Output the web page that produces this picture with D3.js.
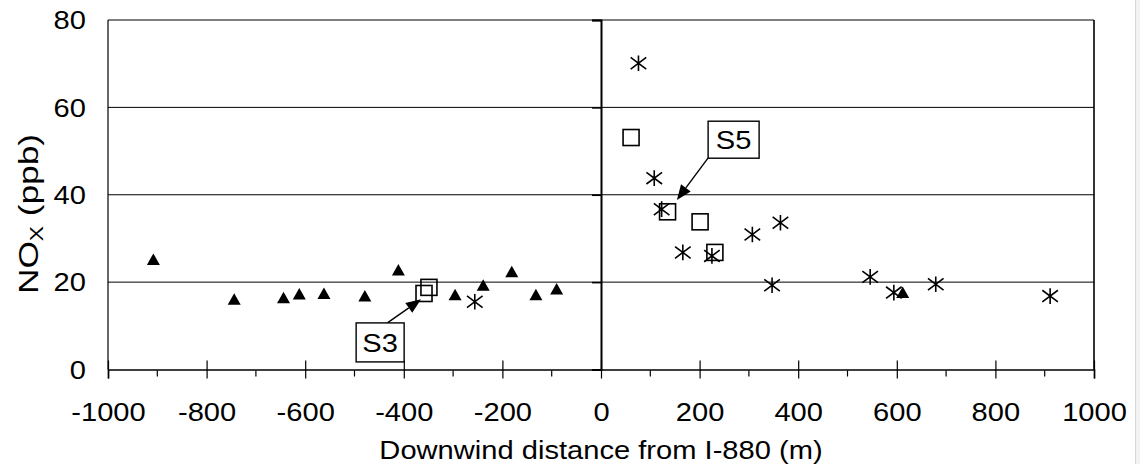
<!DOCTYPE html>
<html><head><meta charset="utf-8">
<script src="https://cdn.jsdelivr.net/npm/d3@7"></script>
<style>
html,body{margin:0;padding:0;background:#fff;}
svg{display:block;font-family:"Liberation Sans",Arial,sans-serif;}
</style></head>
<body>
<svg id="chart" width="1140" height="464"></svg>
<script>
// ---- data ----
const xTickValues = [-1000,-800,-600,-400,-200,0,200,400,600,800,1000];
const xMinorTicks = [-900,-700,-500,-300,-100,100,300,500,700,900];
const yTickValues = [0,20,40,60,80];
const yGridValues = [20,40,60];

const triangleX = [-908,-744,-644,-612,-562,-479,-411,-296,-239,-181,-132,-90,612];
const triangleY = [25.2,16.1,16.4,17.3,17.4,16.8,22.8,17.1,19.3,22.4,17.1,18.4,17.6];

const squareX = [-359,-349,61,135,201,231];
const squareY = [17.4,18.8,53.1,36.1,33.8,26.8];

const asteriskX = [-256,76,108,123,166,225,307,364,347,546,594,679,911];
const asteriskY = [15.5,70.1,43.8,36.7,26.8,26.0,30.9,33.6,19.3,21.2,17.6,19.5,16.8];

const annotationLabels = ["S3","S5"];
const annotationBoxX = [-448,269];
const annotationBoxY = [6.2,52.6];
const arrowFromX = [-434,217];
const arrowFromY = [10.6,48.4];
const arrowToX = [-365,154];
const arrowToY = [16.1,38.8];

const xTitle = "Downwind distance from I-880 (m)";

// ---- layout ----
const svg = d3.select("#chart");
const L = 108, R = 1094, T = 20, B = 369.5;
const x = d3.scaleLinear().domain([-1000,1000]).range([L,R]);
const y = d3.scaleLinear().domain([0,80]).range([B,T]);
const FS = 26, SX = 1.12;

// faint right edge
svg.append("rect").attr("x",1135).attr("y",0).attr("width",5).attr("height",464).attr("fill","#f3f3f3");
svg.append("line").attr("x1",1135.5).attr("x2",1135.5).attr("y1",0).attr("y2",464).attr("stroke","#d8d8d8");

const plot = svg.append("g");
plot.selectAll(".grid").data(yGridValues).join("line")
  .attr("x1",L).attr("x2",R).attr("y1",d=>y(d)).attr("y2",d=>y(d))
  .attr("stroke","#000").attr("stroke-width",1);
plot.append("line").attr("x1",L).attr("x2",R).attr("y1",T).attr("y2",T).attr("stroke","#000").attr("stroke-width",1.2);
plot.append("line").attr("x1",L).attr("x2",L).attr("y1",T).attr("y2",B).attr("stroke","#000").attr("stroke-width",1.2);
plot.append("line").attr("x1",R).attr("x2",R).attr("y1",T).attr("y2",B).attr("stroke","#000").attr("stroke-width",1.6);

// x axis
const xAxis = d3.axisBottom(x).tickValues(xTickValues).tickSize(9).tickFormat(d=>String(d));
const gx = svg.append("g").attr("transform",`translate(0,${B})`).call(xAxis);
gx.attr("font-family",null).attr("font-size",null);
gx.select(".domain").attr("stroke-width",1.6);
gx.selectAll(".tick line").attr("y1",-9).attr("y2",9).attr("stroke-width",1.2);
gx.selectAll(".tick text").attr("font-size",FS)
  .attr("dy",0).attr("y",51.5).attr("fill","#000").attr("transform",`scale(${SX},1)`);
gx.selectAll(".minor").data(xMinorTicks).join("line").attr("class","minor")
  .attr("x1",d=>x(d)).attr("x2",d=>x(d)).attr("y1",1).attr("y2",7).attr("stroke","#000").attr("stroke-width",1.2);

// y axis at x=0
const yAxis = d3.axisLeft(y).tickValues(yTickValues).tickSize(9).tickFormat("");
const gy = svg.append("g").attr("transform",`translate(${x(0)},0)`).call(yAxis);
gy.select(".domain").attr("stroke-width",2);
gy.selectAll(".tick line").attr("stroke-width",1.6);

// y tick labels on left
svg.append("g").selectAll("text").data(yTickValues).join("text")
  .attr("transform",d=>`translate(86,${y(d)}) scale(${SX},1)`)
  .attr("dy","0.36em").attr("text-anchor","end")
  .attr("font-size",FS).text(d=>d);

// axis titles
svg.append("text").attr("transform",`translate(${x(0)},459) scale(${SX},1)`).attr("text-anchor","middle")
  .attr("font-size",FS).text(xTitle);
const yt = svg.append("text").attr("transform",`translate(38,214) rotate(-90) scale(1.26,1)`)
  .attr("text-anchor","middle").attr("font-size",28);
yt.append("tspan").text("NO");
yt.append("tspan").attr("font-size",18).attr("dy",5).text("X");
yt.append("tspan").attr("dy",-5).text(" (ppb)");

// markers
const marks = svg.append("g");
const tri = d3.zip(triangleX, triangleY);
marks.selectAll(".tri").data(tri).join("path").attr("class","tri")
  .attr("d",d=>{const cx=x(d[0]), cy=y(d[1]); return `M${cx-6.5},${cy+5.5}L${cx+6.5},${cy+5.5}L${cx},${cy-6}Z`;})
  .attr("fill","#000");
const ast = d3.zip(asteriskX, asteriskY);
marks.selectAll(".ast").data(ast).join("path").attr("class","ast")
  .attr("d",d=>{const cx=x(d[0]), cy=y(d[1]); const h=7.8;
    return `M${cx},${cy-h}V${cy+h}M${cx-h},${cy-h*0.75}L${cx+h},${cy+h*0.75}M${cx-h},${cy+h*0.75}L${cx+h},${cy-h*0.75}`;})
  .attr("stroke","#000").attr("stroke-width",1.6).attr("fill","none");
const sq = d3.zip(squareX, squareY);
marks.selectAll(".sq").data(sq).join("rect").attr("class","sq")
  .attr("x",d=>x(d[0])-8).attr("y",d=>y(d[1])-8).attr("width",16).attr("height",16)
  .attr("fill","none").attr("stroke","#000").attr("stroke-width",1.6);

// annotations
const ann = svg.append("g");
annotationLabels.forEach((lab,i)=>{
  const x1=x(arrowFromX[i]), y1=y(arrowFromY[i]), x2=x(arrowToX[i]), y2=y(arrowToY[i]);
  const ang=Math.atan2(y2-y1,x2-x1), hl=15, hw=6;
  const bx=x2-hl*Math.cos(ang), by=y2-hl*Math.sin(ang);
  ann.append("line").attr("x1",x1).attr("y1",y1).attr("x2",bx).attr("y2",by)
    .attr("stroke","#000").attr("stroke-width",1.4);
  ann.append("path").attr("d",`M${x2},${y2}L${bx+hw*Math.sin(ang)},${by-hw*Math.cos(ang)}L${bx-hw*Math.sin(ang)},${by+hw*Math.cos(ang)}Z`)
    .attr("fill","#000");
  const cx=x(annotationBoxX[i]), cy=y(annotationBoxY[i]);
  const w = i===0?48:51, h = i===0?39:37;
  ann.append("rect").attr("x",cx-w/2).attr("y",cy-h/2).attr("width",w).attr("height",h)
    .attr("fill","#fff").attr("stroke","#000").attr("stroke-width",1.4);
  ann.append("text").attr("transform",`translate(${cx},${cy}) scale(${SX},1)`).attr("dy","0.36em").attr("text-anchor","middle")
    .attr("font-size",FS).text(lab);
});
</script>
</body></html>
